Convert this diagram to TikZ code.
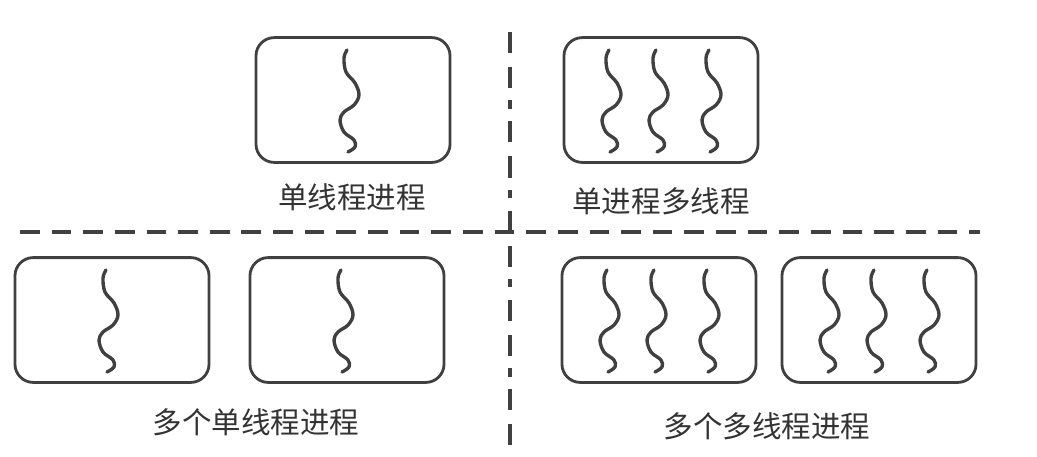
\documentclass[tikz,border=0pt]{standalone}
\usepackage{fontspec}
\newfontfamily\cjk{Noto Sans CJK SC}
\usetikzlibrary{calc}
\tikzset{
  procbox/.style={draw=black!75,line width=2pt,rounded corners=13pt,
    minimum width=4.85cm,minimum height=3.12cm,inner sep=0pt},
  threadline/.style={draw=black!75,line width=2.4pt,line cap=round},
  divider/.style={draw=black!75,line width=2.6pt,line cap=butt},
  lbl/.style={text=black!80,font=\cjk\fontsize{21}{25}\selectfont,inner sep=0pt},
  thread/.pic={\draw[threadline] plot[smooth,tension=0.6] coordinates
    {(0,0) (-3,8) (-1,22) (8,33) (12,45) (7,55) (-3,62) (-7,70) (-3,82) (7,90) (8,97) (1,102)};}
}
\begin{document}
\begin{tikzpicture}[x=0.025cm,y=-0.025cm,line cap=round,line join=round]
  \useasboundingbox (0,0) rectangle (1037,456);
  % dividers
  \draw[divider,dash pattern=on 14pt off 8.5pt] (20,232) -- (980,232);
  \draw[divider,dash pattern=on 15pt off 10pt on 15pt off 8.5pt on 6pt off 9pt] (510,32) -- (510,445);
  % processes
  \node[procbox] (single) at (353,100) {};
  \node[procbox] (multi) at (661,100) {};
  \node[procbox] (singleA) at (112,320) {};
  \node[procbox] (singleB) at (347,320) {};
  \node[procbox] (multiA) at (659,320) {};
  \node[procbox] (multiB) at (879,320) {};
  % threads
  \foreach \b in {single,singleA,singleB}
    \pic at ($(\b)+(-6,-50)$) {thread};
  \foreach \b in {multi,multiA,multiB}
    \foreach \dx in {-52,-5,48}
      \pic at ($(\b)+(\dx,-50)$) {thread};
  % labels
  \node[lbl] (singleL) at (352,197) {单线程进程};
  \node[lbl] (multiL) at (661,201) {单进程多线程};
  \node[lbl] (singleAL) at (256,422) {多个单线程进程};
  \node[lbl] (multiAL) at (767,426) {多个多线程进程};
\end{tikzpicture}
\end{document}
